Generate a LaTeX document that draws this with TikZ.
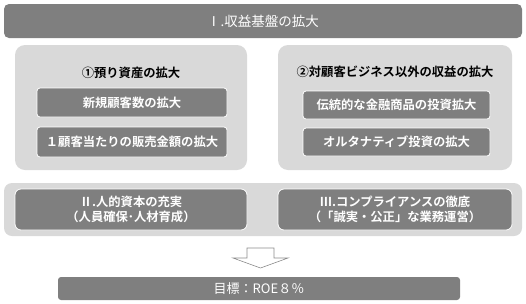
\documentclass[tikz,border=0pt]{standalone}
\usepackage{fontspec}
\usepackage{tikz}
\usetikzlibrary{positioning,calc}
\newfontfamily\jpfont{Noto Sans CJK JP}[BoldFont={Noto Sans CJK JP Bold}]
\definecolor{kdark}{HTML}{7F7F7F}
\definecolor{klight}{HTML}{D9D9D9}
\definecolor{kline}{HTML}{8C8C8C}

\begin{document}
\begin{tikzpicture}[
  x=1pt, y=-1pt,
  every node/.style={inner sep=0pt, outer sep=0pt},
  headbar/.style={fill=kdark, rounded corners=5pt, text=white, font=\jpfont\fontsize{13.5}{16}\selectfont, minimum width=518pt, minimum height=34pt},
  panel/.style={fill=klight, rounded corners=10pt},
  paneltitle/.style={text=black, font=\jpfont\bfseries\fontsize{12.3}{15}\selectfont},
  item/.style={fill=kdark, draw=white, line width=0.8pt, rounded corners=3pt, text=white, align=center, font=\jpfont\bfseries\fontsize{12.3}{14.5}\selectfont},
  goal/.style={fill=kdark, rounded corners=3pt, text=white, font=\jpfont\fontsize{13}{15}\selectfont, minimum width=402pt, minimum height=23pt}
]
\useasboundingbox (0,0) rectangle (526,303);
% top bar
\node[headbar] (head) at (263,21) {Ⅰ.収益基盤の拡大};
% two panels
\node[panel, minimum width=232pt, minimum height=125pt] (pl) at (131,107.5) {};
\node[panel, minimum width=234pt, minimum height=125pt] (pr) at (395,107.5) {};
\node[paneltitle] (tl) at (131,73) {①預り資産の拡大};
\node[paneltitle] (tr) at (395,72) {②対顧客ビジネス以外の収益の拡大};
\node[item, minimum width=190pt, minimum height=29pt] (l1) at (132,102.5) {新規顧客数の拡大};
\node[item, minimum width=190pt, minimum height=30pt] (l2) at (132,142) {１顧客当たりの販売金額の拡大};
\node[item, minimum width=187pt, minimum height=28pt] (r1) at (396.5,105) {伝統的な金融商品の投資拡大};
\node[item, minimum width=187pt, minimum height=28pt] (r2) at (396.5,142) {オルタナティブ投資の拡大};
% lower band
\node[panel, rounded corners=8pt, minimum width=518pt, minimum height=53pt] (band) at (263,209.5) {};
\node[item, rounded corners=6pt, minimum width=232pt, minimum height=41pt] (hr) at (131,209.5) {Ⅱ.人的資本の充実\\（人員確保･人材育成）};
\node[item, rounded corners=6pt, minimum width=234pt, minimum height=41pt] (cp) at (395,209.5) {Ⅲ.コンプライアンスの徹底\\（「誠実・公正」な業務運営）};
% goal
\node[goal] (roe) at (259,288.5) {目標：ROE８％};
\coordinate (tip) at ($(roe.north)+(1.5,-9)$);
\draw[kline, fill=white, line width=0.6pt]
  ($(tip)+(-13.5,-20)$) -- ($(tip)+(13.5,-20)$) -- ($(tip)+(13.5,-10)$) -- ($(tip)+(27.5,-10)$)
  -- (tip) -- ($(tip)+(-27.5,-10)$) -- ($(tip)+(-13.5,-10)$) -- cycle;
\end{tikzpicture}
\end{document}
